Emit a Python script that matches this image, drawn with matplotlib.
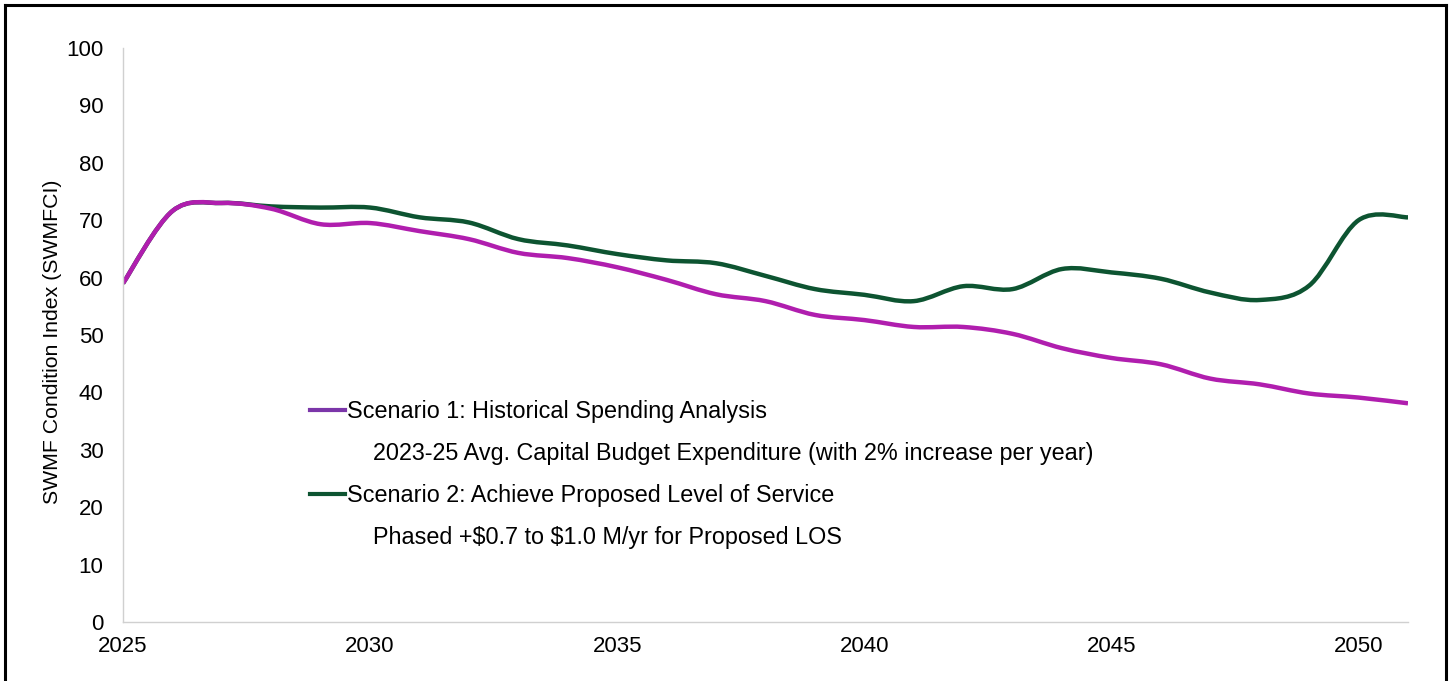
import matplotlib
matplotlib.use("Agg")
import matplotlib.pyplot as plt
import numpy as np
from matplotlib.path import Path
from matplotlib.patches import PathPatch
from matplotlib.lines import Line2D

plt.rcParams['font.family'] = ['Liberation Sans', 'DejaVu Sans']

years = list(range(2025, 2052))
scenario1 = [59.0, 71.6, 73.0, 72.0, 69.3, 69.5, 68.1, 66.7, 64.3, 63.4, 61.8, 59.6, 57.1, 55.9,
             53.5, 52.6, 51.4, 51.4, 50.2, 47.7, 46.0, 44.9, 42.4, 41.4, 39.8, 39.1, 38.1]
scenario2 = [59.0, 71.6, 73.0, 72.4, 72.2, 72.2, 70.5, 69.6, 66.7, 65.6, 64.1, 63.0, 62.5, 60.3,
             58.0, 57.0, 55.9, 58.5, 58.0, 61.5, 60.9, 59.8, 57.4, 56.1, 58.6, 70.0, 70.5]
label1 = "Scenario 1: Historical Spending Analysis"
sub1 = "2023-25 Avg. Capital Budget Expenditure (with 2% increase per year)"
label2 = "Scenario 2: Achieve Proposed Level of Service"
sub2 = "Phased +\\$0.7 to \\$1.0 M/yr for Proposed LOS"
ylabel = "SWMF Condition Index (SWMFCI)"
xticks = [2025, 2030, 2035, 2040, 2045, 2050]
yticks = list(range(0, 101, 10))

col1 = "#B01EAE"
col1_leg = "#7B36A9"
col2 = "#0D5431"


def smooth_path(x, y):
    x = np.asarray(x, float)
    y = np.asarray(y, float)
    n = len(x)
    verts = [(x[0], y[0])]
    codes = [Path.MOVETO]
    for i in range(n - 1):
        p0 = np.array([x[max(i - 1, 0)], y[max(i - 1, 0)]])
        p1 = np.array([x[i], y[i]])
        p2 = np.array([x[i + 1], y[i + 1]])
        p3 = np.array([x[min(i + 2, n - 1)], y[min(i + 2, n - 1)]])
        c1 = p1 + (p2 - p0) / 6.0
        c2 = p2 - (p3 - p1) / 6.0
        verts += [tuple(c1), tuple(c2), tuple(p2)]
        codes += [Path.CURVE4] * 3
    return Path(verts, codes)


fig = plt.figure(figsize=(14.52, 6.81), dpi=100)
ax = fig.add_axes([123 / 1452, 1 - 622 / 681, (1408 - 123) / 1452, (622 - 48) / 681])

for ys, c in [(scenario1, col1), (scenario2, col2)][::-1]:
    patch = PathPatch(smooth_path(years, ys), facecolor='none', edgecolor=c, lw=3.2,
                      capstyle='butt', joinstyle='round')
    ax.add_patch(patch)

ax.set_xlim(2025, 2051)
ax.set_ylim(0, 100)
ax.set_xticks(xticks)
ax.set_yticks(yticks)
ax.tick_params(axis='both', length=0, labelsize=16, colors='black')
ax.tick_params(axis='x', pad=10)
ax.tick_params(axis='y', pad=14)
for s in ['top', 'right']:
    ax.spines[s].set_visible(False)
for s in ['left', 'bottom']:
    ax.spines[s].set_color('#d0d0d0')
    ax.spines[s].set_linewidth(1.0)
ax.set_ylabel(ylabel, fontsize=15.3)
ax.yaxis.set_label_coords(-61 / 1285, (622 - 342) / 574)

handles = [Line2D([], [], color=col1_leg, lw=3),
           Line2D([], [], color='none'),
           Line2D([], [], color=col2, lw=3),
           Line2D([], [], color='none')]
labels = [label1, "    " + sub1, label2, "    " + sub2]
leg = ax.legend(handles, labels, loc='upper left', bbox_to_anchor=((310 - 123) / 1285, (622 - 400) / 574),
                frameon=False, borderpad=0, borderaxespad=0, handlelength=1.5, handletextpad=0.08,
                labelspacing=0.82, fontsize=16.8)

# figure border (left, top, right)
bc = 'black'
fig.add_artist(Line2D([5 / 1452, 5 / 1452], [0, 1 - 5 / 681], transform=fig.transFigure, color=bc, lw=2.2))
fig.add_artist(Line2D([5 / 1452, 1446 / 1452], [1 - 5 / 681, 1 - 5 / 681], transform=fig.transFigure, color=bc, lw=2.2))
fig.add_artist(Line2D([1446 / 1452, 1446 / 1452], [0, 1 - 5 / 681], transform=fig.transFigure, color=bc, lw=2.2))

fig.savefig("out.png", dpi=100)
